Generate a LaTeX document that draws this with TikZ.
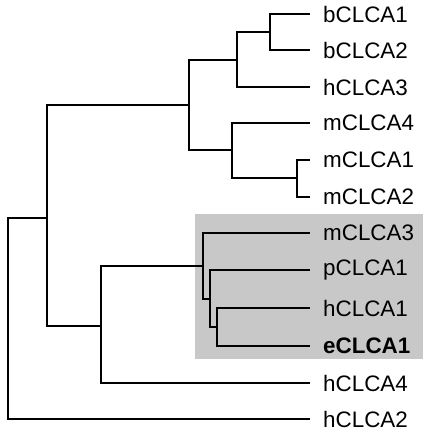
\documentclass[tikz,border=0pt]{standalone}
\usepackage{fontspec}
\setmainfont{Liberation Sans}
\definecolor{boxgray}{RGB}{200,200,200}
\begin{document}
\begin{tikzpicture}[x=1pt,y=-1pt,
  branch/.style={line width=2pt},
  leaf/.style={anchor=west, inner sep=0pt, font=\fontsize{22.4}{26}\selectfont}]
\useasboundingbox (0,0) rectangle (432,437);
\fill[boxgray] (195,214) rectangle (423,359);
% leaf tips
\coordinate (t1) at (310,14);
\coordinate (t2) at (310,50);
\coordinate (t3) at (310,87);
\coordinate (t4) at (310,123);
\coordinate (t5) at (310,160);
\coordinate (t6) at (310,197);
\coordinate (t7) at (310,233);
\coordinate (t8) at (310,270);
\coordinate (t9) at (310,308);
\coordinate (t10) at (310,346);
\coordinate (t11) at (310,383);
\coordinate (t12) at (310,419);
% labels
\node[leaf] (l1) at (323,14) {bCLCA1};
\node[leaf] (l2) at (323,50) {bCLCA2};
\node[leaf] (l3) at (323,87) {hCLCA3};
\node[leaf] (l4) at (323,123) {mCLCA4};
\node[leaf] (l5) at (323,160) {mCLCA1};
\node[leaf] (l6) at (323,197) {mCLCA2};
\node[leaf] (l7) at (323,233) {mCLCA3};
\node[leaf] (l8) at (323,270) {pCLCA1};
\node[leaf] (l9) at (323,308) {hCLCA1};
\node[leaf] (l10) at (323,346) {\bfseries eCLCA1};
\node[leaf] (l11) at (323,383) {hCLCA4};
\node[leaf] (l12) at (323,419) {hCLCA2};
% internal nodes
\coordinate (nb) at (270,32);
\coordinate (nbh) at (237,60);
\coordinate (nm12) at (297,178);
\coordinate (nm4) at (232,150);
\coordinate (ntop) at (189,105);
\coordinate (ne) at (217,327);
\coordinate (np) at (210,299);
\coordinate (nm3) at (203,266);
\coordinate (nmid) at (101,326);
\coordinate (nmain) at (47,218);
\coordinate (root) at (8,318);
% branches
\draw[branch] (nb) |- (t1);
\draw[branch] (nb) |- (t2);
\draw[branch] (nbh) |- (nb);
\draw[branch] (nbh) |- (t3);
\draw[branch] (nm12) |- (t5);
\draw[branch] (nm12) |- (t6);
\draw[branch] (nm4) |- (t4);
\draw[branch] (nm4) |- (nm12);
\draw[branch] (ntop) |- (nbh);
\draw[branch] (ntop) |- (nm4);
\draw[branch] (ne) |- (t9);
\draw[branch] (ne) |- (t10);
\draw[branch] (np) |- (t8);
\draw[branch] (np) |- (ne);
\draw[branch] (nm3) |- (t7);
\draw[branch] (nm3) |- (np);
\draw[branch] (nmid) |- (nm3);
\draw[branch] (nmid) |- (t11);
\draw[branch] (nmain) |- (ntop);
\draw[branch] (nmain) |- (nmid);
\draw[branch] (root) |- (nmain);
\draw[branch] (root) |- (t12);
\end{tikzpicture}
\end{document}
